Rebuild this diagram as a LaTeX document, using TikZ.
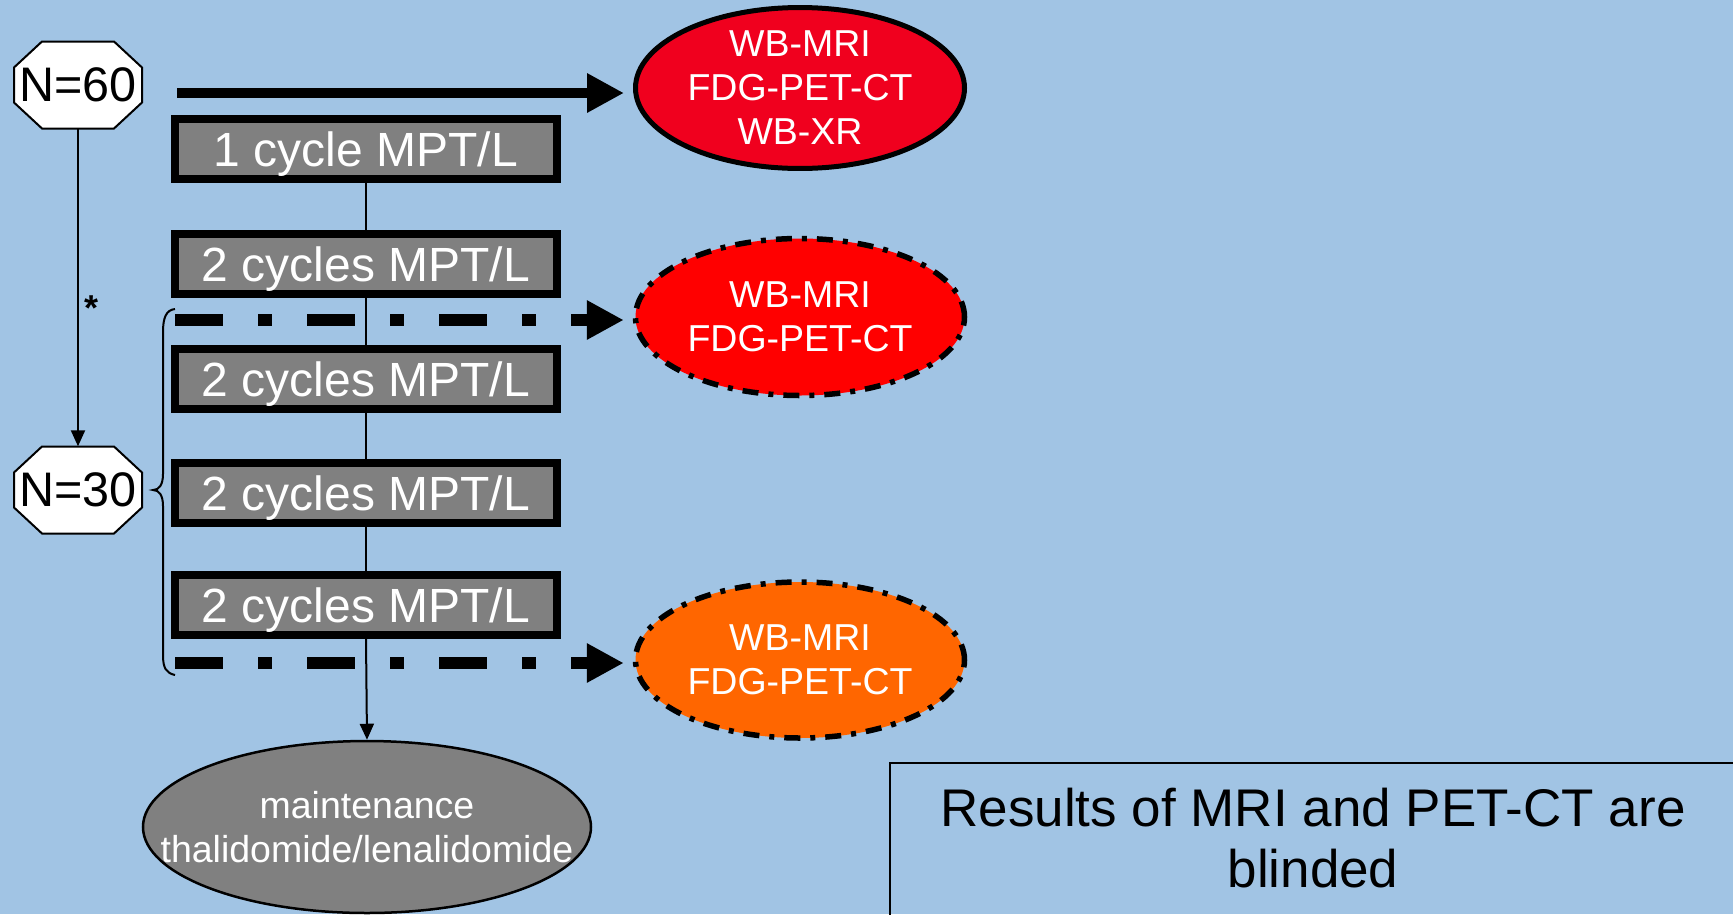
\documentclass[tikz,border=0pt]{standalone}
\usepackage{fontspec}
\setmainfont{Liberation Sans}
\usetikzlibrary{shapes.geometric,arrows.meta}
\definecolor{bg}{RGB}{161,196,228}
\definecolor{redA}{RGB}{240,0,30}
\definecolor{redB}{RGB}{255,0,0}
\definecolor{orangeC}{RGB}{255,102,0}
\definecolor{grayF}{RGB}{128,128,128}
\newcommand\octagonat[1]{\filldraw[octline] ([shift={(-36,-43.5)}]#1) -- ([shift={(36,-43.5)}]#1)
  -- ([shift={(64,-17.5)}]#1) -- ([shift={(64,17.5)}]#1) -- ([shift={(36,43.5)}]#1)
  -- ([shift={(-36,43.5)}]#1) -- ([shift={(-64,17.5)}]#1) -- ([shift={(-64,-17.5)}]#1) -- cycle;}
\begin{document}
\begin{tikzpicture}[x=1pt,y=-1pt,
  octline/.style={draw=black, fill=white, line width=2pt},
  octo/.style={rectangle, minimum width=128pt, minimum height=87pt, inner sep=0pt,
    font=\fontsize{48.5}{50}\selectfont},
  cyc/.style={rectangle, draw, fill=grayF, line width=8pt, minimum width=382pt, minimum height=60pt,
    inner sep=0pt, text=white, text height=35pt, text depth=0pt, font=\fontsize{48}{52}\selectfont},
  ell/.style={ellipse, draw, line width=5pt, minimum width=329pt, minimum height=155pt, inner sep=0pt,
    text=white, align=center, font=\fontsize{37.5}{44}\selectfont},
  dashdotline/.style={line width=5.5pt, dash pattern=on 16pt off 10pt on 5pt off 10pt},
  maint/.style={ellipse, draw, fill=grayF, line width=2.5pt, minimum width=448pt, minimum height=172pt,
    inner sep=0pt},
  mainttext/.style={inner sep=0pt, text=white, align=center, font=\fontsize{37.5}{44}\selectfont},
  thinarrow/.style={line width=2pt, -{Triangle[length=16pt,width=14pt]}},
  thickarrow/.style={line width=10pt, -{Triangle[length=37pt,width=37pt]}},
  dasharrow/.style={line width=12pt, dash pattern=on 48pt off 35pt on 14pt off 35pt, -{Triangle[length=37pt,width=37pt]}},
  notetext/.style={align=center, inner sep=0pt, font=\fontsize{53}{61}\selectfont},
  frame/.style={line width=2.5pt},
  star/.style={inner sep=0pt, font=\bfseries\fontsize{36}{40}\selectfont}
]
\useasboundingbox (0,0) rectangle (1733,914);
\fill[bg] (0,0) rectangle (1733,914);

% start nodes
\coordinate (p60) at (78,85);
\coordinate (p30) at (78,490);
\octagonat{p60}
\octagonat{p30}
\node[octo] (n60) at (p60) {N=60};
\node[octo] (n30) at (p30) {N=30};
\draw[thinarrow] (n60.south) -- (n30.north);
\node[star] (ast) at (91.5,308) {*};

% treatment boxes
\node[cyc] (c1) at (366,149) {1 cycle MPT/L};
\node[cyc] (c2) at (366,264) {2 cycles MPT/L};
\node[cyc] (c3) at (366,379) {2 cycles MPT/L};
\node[cyc] (c4) at (366,493) {2 cycles MPT/L};
\node[cyc] (c5) at (366,605) {2 cycles MPT/L};

% maintenance
\node[maint] (m) at (367,827) {};
\node[mainttext] (mt) at (m.center) {maintenance\\thalidomide/lenalidomide};

\draw[line width=2pt] (c1.south) -- (c2.north);
\draw[line width=2pt] (c2.south) -- (c3.north);
\draw[line width=2pt] (c3.south) -- (c4.north);
\draw[line width=2pt] (c4.south) -- (c5.north);
\draw[thinarrow] (c5.south) -- (m.north);

% imaging ellipses
\node[ell, fill=redA] (e1) at (800,88) {WB-MRI\\FDG-PET-CT\\WB-XR};
\node[ell, dashdotline, fill=redB, minimum height=157pt] (e2) at (800,317) {WB-MRI\\FDG-PET-CT};
\node[ell, dashdotline, fill=orangeC, minimum height=156pt] (e3) at (800,660) {WB-MRI\\FDG-PET-CT};

% arrows to ellipses
\coordinate (s1) at (177,93);
\coordinate (s2) at (175,320);
\coordinate (s3) at (175,663);
\draw[thickarrow, shorten >=9pt] (s1) -- (s1 -| e1.west);
\draw[dasharrow, shorten >=9pt] (s2) -- (s2 -| e2.west);
\draw[dasharrow, shorten >=9pt] (s3) -- (s3 -| e3.west);

% brace
\draw[line width=2pt] (175,309) .. controls (166,310) and (163,318) .. (163,332)
  -- (163,474) .. controls (163,485) and (159,490) .. (153,490)
  .. controls (159,490) and (163,495) .. (163,506)
  -- (163,655) .. controls (163,668) and (166,673) .. (175,675);

% note
\node[notetext] (note) at (1313,838) {Results of MRI and PET-CT are\\blinded};
\draw[frame] (890,930) -- (890,763) -- (1745,763);
\end{tikzpicture}
\end{document}
